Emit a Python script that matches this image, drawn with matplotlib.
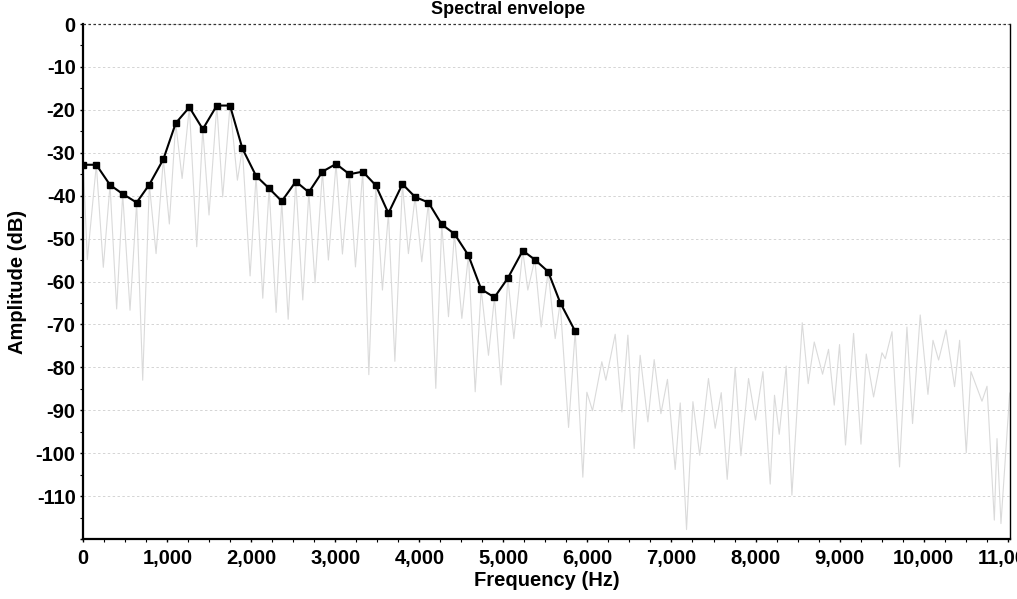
import matplotlib
matplotlib.use("Agg")
import matplotlib.pyplot as plt
from matplotlib.ticker import MultipleLocator, FuncFormatter

# Envelope (black line with square markers)
env_freq = [0, 155, 318, 469, 635, 786, 953, 1100, 1262, 1422, 1589, 1746, 1893,
            2056, 2211, 2362, 2529, 2684, 2846, 3008, 3167, 3326, 3481, 3631, 3798,
            3949, 4108, 4266, 4417, 4583, 4735, 4893, 5053, 5230, 5373, 5532, 5675, 5854]
env_db = [-32.8, -32.8, -37.5, -39.6, -41.6, -37.4, -31.5, -23.1, -19.4, -24.5, -19.0,
          -19.0, -29.0, -35.4, -38.3, -41.3, -36.7, -39.2, -34.4, -32.6, -35.0, -34.4,
          -37.6, -44.1, -37.3, -40.3, -41.6, -46.7, -48.9, -53.9, -61.8, -63.7, -59.2,
          -52.8, -54.9, -57.7, -64.9, -71.6]

# Spectrum (light grey line): alternating peaks and dips
spec_freq = [0, 48, 155, 238, 318, 397, 469, 556, 635, 707, 786, 866, 953, 1024,
             1100, 1176, 1262, 1350, 1422, 1496, 1589, 1659, 1746, 1834, 1893, 1985,
             2056, 2136, 2211, 2295, 2362, 2438, 2529, 2612, 2684, 2758, 2846, 2917,
             3008, 3084, 3167, 3239, 3326, 3398, 3481, 3560, 3631, 3708, 3798, 3869,
             3949, 4028, 4108, 4195, 4266, 4346, 4417, 4505, 4583, 4664, 4735, 4822,
             4893, 4972, 5053, 5124, 5230, 5290, 5373, 5449, 5532, 5616, 5675, 5775,
             5854, 5945, 5993, 6060, 6171, 6219, 6330, 6410, 6481, 6556, 6627, 6719,
             6794, 6874, 6952, 7044, 7104, 7179, 7255, 7336, 7440, 7520, 7592, 7663,
             7758, 7826, 7917, 8000, 8088, 8175, 8226, 8282, 8365, 8433, 8556, 8627,
             8699, 8798, 8869, 8937, 9000, 9071, 9167, 9255, 9318, 9405, 9505, 9544,
             9624, 9714, 9802, 9869, 9960, 10052, 10112, 10179, 10267, 10369, 10429,
             10508, 10564, 10695, 10755, 10842, 10874, 10921, 11025]
spec_db = [-32.8, -54.9, -32.8, -56.7, -37.5, -66.4, -39.6, -66.7, -41.6, -83.0, -37.4,
           -53.5, -31.5, -46.6, -23.1, -36.0, -19.4, -51.9, -24.5, -44.5, -19.0, -40.3,
           -19.0, -36.4, -29.0, -58.7, -35.4, -63.9, -38.3, -67.2, -41.3, -68.8, -36.7,
           -64.3, -39.2, -60.3, -34.4, -55.0, -32.6, -53.6, -35.0, -56.6, -34.4, -81.7,
           -37.6, -62.0, -44.1, -78.6, -37.3, -53.5, -40.3, -55.4, -41.6, -84.9, -46.7,
           -68.2, -48.9, -68.6, -53.9, -85.7, -61.8, -77.2, -63.7, -84.1, -59.2, -73.3,
           -52.8, -62.0, -54.9, -70.6, -57.7, -73.3, -64.9, -94.0, -71.6, -105.6, -85.8,
           -90.1, -78.7, -83.0, -72.3, -90.4, -72.5, -98.9, -77.2, -92.7, -78.2, -90.8,
           -82.8, -103.8, -88.3, -117.8, -88.0, -100.5, -82.6, -94.2, -85.9, -106.1,
           -80.0, -100.6, -82.6, -92.3, -81.0, -107.2, -86.5, -95.6, -79.7, -109.8,
           -69.6, -83.8, -74.1, -81.6, -75.8, -88.8, -74.7, -98.1, -72.1, -97.9, -76.9,
           -86.9, -76.6, -78.0, -71.7, -103.2, -70.6, -93.1, -67.8, -86.3, -73.7, -78.3,
           -71.3, -84.5, -73.7, -99.9, -81.0, -87.9, -84.4, -115.6, -96.6, -116.4, -86.0]

title = "Spectral envelope"
xlabel = "Frequency (Hz)"
ylabel = "Amplitude (dB)"

FONT = ["Liberation Sans", "DejaVu Sans"]
plt.rcParams["font.family"] = FONT

W, H = 1017, 599
fig = plt.figure(figsize=(W / 100, H / 100), dpi=100)
ax = fig.add_axes([83.3 / W, 1 - 539 / H, (1009.7 - 83.3) / W, (539 - 24) / H])

ax.plot(spec_freq, spec_db, color="#dadada", lw=0.8, zorder=2)
ax.plot(env_freq, env_db, color="black", lw=1.5, marker="s", markersize=4.5,
        markerfacecolor="black", markeredgecolor="black", zorder=3)

ax.set_xlim(0, 11025)
ax.set_ylim(-120, 0)

ax.xaxis.set_major_locator(MultipleLocator(1000))
ax.xaxis.set_minor_locator(MultipleLocator(250))
ax.yaxis.set_major_locator(MultipleLocator(10))
ax.yaxis.set_minor_locator(MultipleLocator(5))
ax.xaxis.set_major_formatter(FuncFormatter(lambda v, p: f"{int(round(v)):,}"))
ax.yaxis.set_major_formatter(
    FuncFormatter(lambda v, p: "" if v <= -119.5 else ("0" if v >= 0 else f"{int(round(v))}")))

ax.grid(axis="y", which="major", color="#d4d4d4", linestyle=(0, (2.5, 2.5)), lw=0.7)
ax.set_axisbelow(True)
ax.axhline(0, color="#333333", linestyle=(0, (2, 2)), lw=0.9, zorder=4, clip_on=False)

for s in ["left", "bottom"]:
    ax.spines[s].set_linewidth(1.6)
    ax.spines[s].set_color("black")
ax.spines["top"].set_visible(False)
ax.spines["right"].set_linewidth(1.0)
ax.spines["right"].set_color("black")

ax.tick_params(axis="both", which="major", direction="out", length=2.5, width=1,
               labelsize=14.5)
ax.tick_params(axis="both", which="minor", direction="out", length=2, width=0.8)
ax.tick_params(axis="x", pad=5)
ax.tick_params(axis="y", pad=3)
for lbl in ax.get_xticklabels() + ax.get_yticklabels():
    lbl.set_fontweight("bold")
ax.yaxis.set_ticks_position("left")
ax.xaxis.set_ticks_position("bottom")

ax.set_xlabel(xlabel, fontsize=14.5, fontweight="bold", labelpad=2)
ax.set_ylabel(ylabel, fontsize=14.5, fontweight="bold", labelpad=6)
fig.text(0.5, 1 - 9 / H, title, ha="center", va="center", fontsize=13,
         fontweight="bold")

fig.savefig("out.png", dpi=100, facecolor="white")
